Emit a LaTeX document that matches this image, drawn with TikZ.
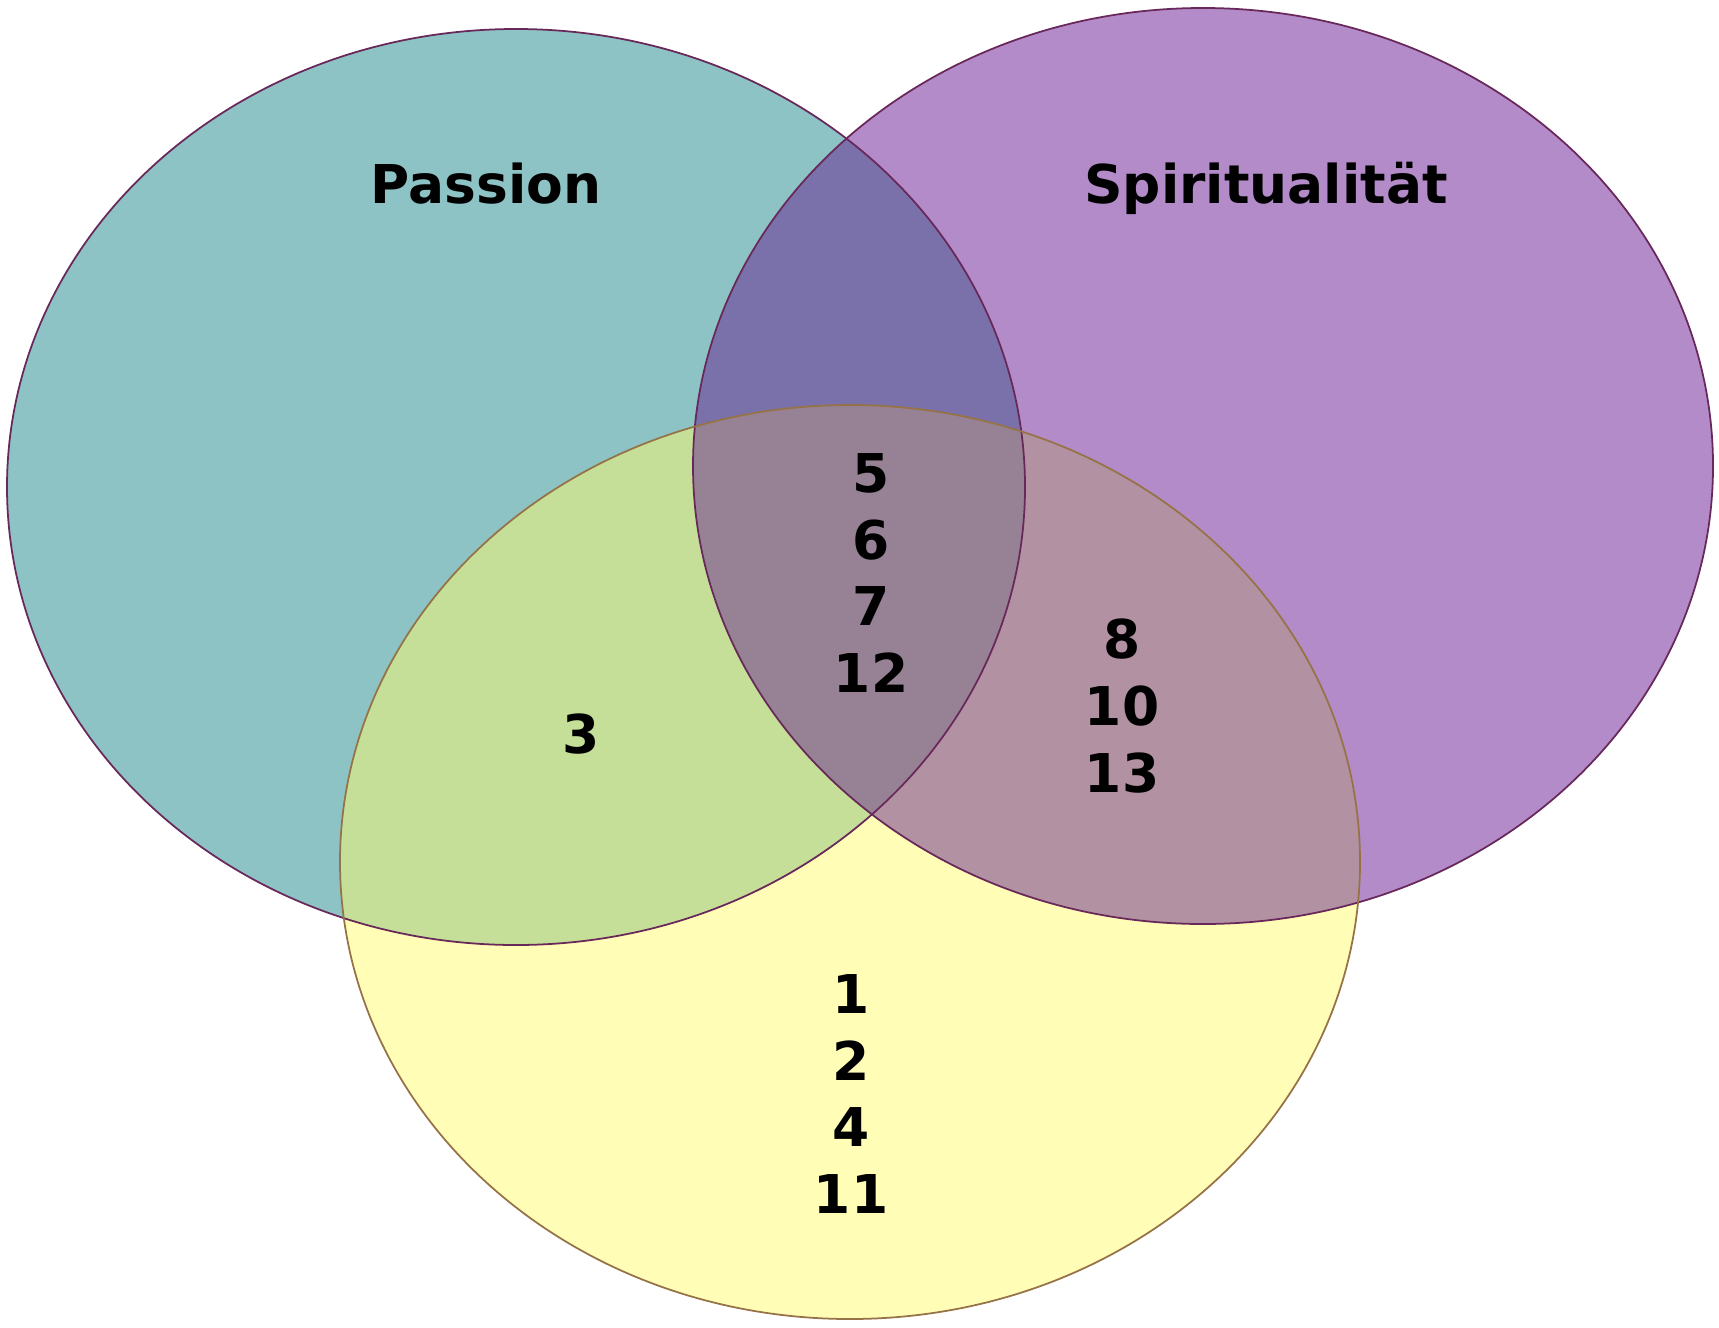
\documentclass[tikz,border=0pt]{standalone}
\usepackage{fontspec}
\setmainfont{DejaVu Sans}
\usepackage{xcolor}
\usepackage{tikz}
\definecolor{passionteal}{RGB}{141,195,196}
\definecolor{spiritpurple}{RGB}{179,139,200}
\definecolor{thirdyellow}{RGB}{255,253,182}
\definecolor{tealpurple}{RGB}{122,113,170}
\definecolor{tealyellow}{RGB}{197,223,152}
\definecolor{purpleyellow}{RGB}{178,146,162}
\definecolor{allthree}{RGB}{150,130,148}
\definecolor{rimpurple}{RGB}{105,40,90}
\definecolor{rimbrown}{RGB}{150,115,70}
\newcommand{\passionset}{(516,487) ellipse [x radius=509, y radius=458]}
\newcommand{\spiritset}{(1203,466) ellipse [x radius=510, y radius=458]}
\newcommand{\yellowset}{(850,862) ellipse [x radius=510, y radius=457]}
\tikzset{
  setrim/.style={line width=0.5pt},
  setlabel/.style={font=\bfseries\fontsize{15.2}{19}\selectfont, anchor=base},
  setitems/.style={font=\bfseries\fontsize{15.2}{19}\selectfont, align=center}
}

\begin{document}
\begin{tikzpicture}[x=0.01cm,y=-0.01cm]
  \useasboundingbox (0,0) rectangle (1719,1327);
  % single sets
  \fill[passionteal] \passionset;
  \fill[spiritpurple] \spiritset;
  \fill[thirdyellow] \yellowset;
  % overlaps
  \begin{scope}
    \clip \passionset;
    \fill[tealpurple] \spiritset;
    \fill[tealyellow] \yellowset;
    \clip \spiritset;
    \fill[allthree] \yellowset;
  \end{scope}
  \begin{scope}
    \clip \spiritset;
    \clip \yellowset;
    \fill[purpleyellow] (0,0) rectangle (1719,1327);
    \clip \passionset;
    \fill[allthree] (0,0) rectangle (1719,1327);
  \end{scope}
  % outlines
  \draw[setrim,draw=rimpurple] \passionset;
  \draw[setrim,draw=rimpurple] \spiritset;
  \draw[setrim,draw=rimbrown] \yellowset;

  \node[setlabel] (passion) at (486,203) {Passion};
  \node[setlabel] (spirit) at (1266,203) {Spiritualität};
  \node[setitems] (core) at (871,573) {5\\6\\7\\12};
  \node[setitems] (spiritonly) at (1122,706) {8\\10\\13};
  \node[setitems] (passiononly) at (581,734) {3};
  \node[setitems] (yellowonly) at (851,1094) {1\\2\\4\\11};
\end{tikzpicture}
\end{document}
